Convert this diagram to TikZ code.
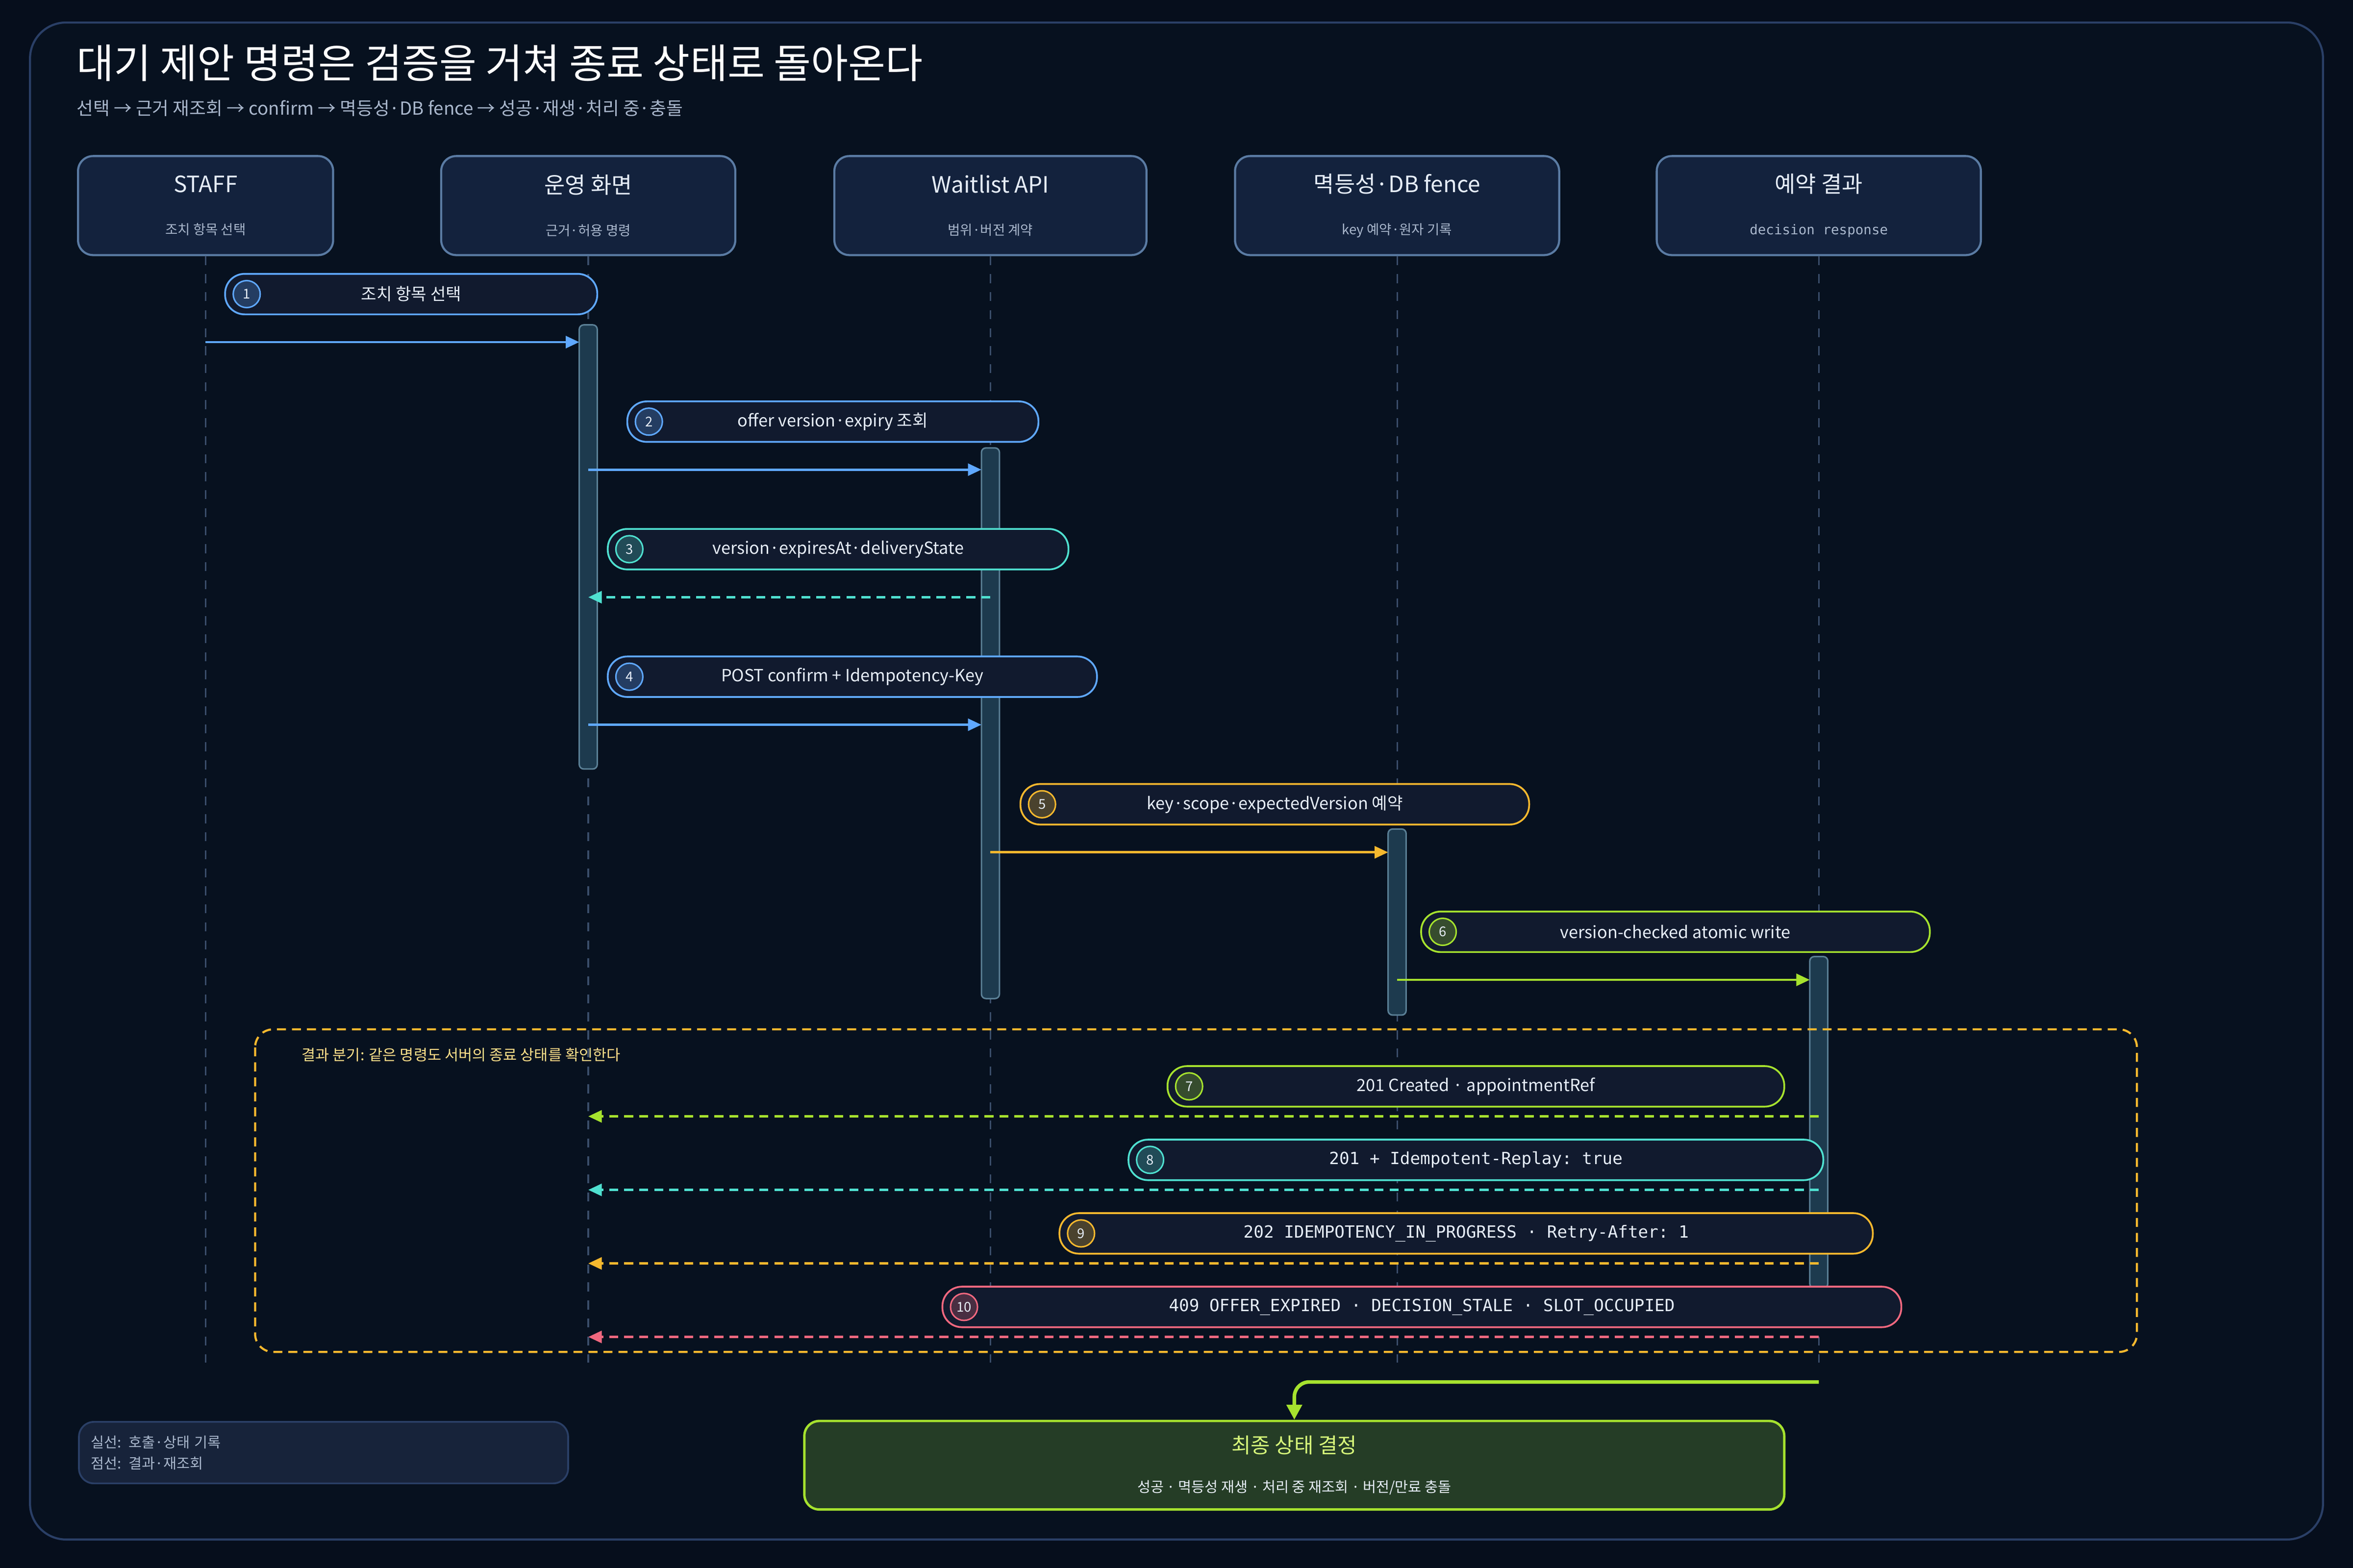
\documentclass[tikz,border=0pt]{standalone}
\usepackage{fontspec}
\setmainfont{Noto Sans CJK KR}
\setmonofont{DejaVu Sans Mono}
\usetikzlibrary{arrows.meta,positioning}
\definecolor{pagebg}{HTML}{060E1C}
\definecolor{framebg}{HTML}{07111F}
\definecolor{framedraw}{HTML}{2A3F66}
\definecolor{boxbg}{HTML}{13223D}
\definecolor{boxdraw}{HTML}{5A7BA3}
\definecolor{pillbg}{HTML}{111A2E}
\definecolor{txt}{HTML}{E6EDF7}
\definecolor{subtxt}{HTML}{A9B7CC}
\definecolor{life}{HTML}{3A4D6A}
\definecolor{actbg}{HTML}{1D3A4E}
\definecolor{actdraw}{HTML}{5A7F95}
\definecolor{cblue}{HTML}{5FA8FF}
\definecolor{cteal}{HTML}{4FE0D0}
\definecolor{corange}{HTML}{F5B82E}
\definecolor{cgreen}{HTML}{A6E22E}
\definecolor{cpink}{HTML}{F0687F}
\definecolor{cyellow}{HTML}{FFE08A}
\definecolor{finalbg}{HTML}{253D26}
\definecolor{finaltxt}{HTML}{D6F57A}
\definecolor{legendbg}{HTML}{17233A}

\tikzset{
  actor/.style={draw=boxdraw, fill=boxbg, rounded corners=5pt, line width=0.7pt,
    minimum height=33pt, align=center, text=txt},
  lifeline/.style={draw=life, line width=0.5pt, dash pattern=on 3pt off 3pt},
  act/.style={draw=actdraw, fill=actbg, rounded corners=1.5pt, line width=0.5pt,
    minimum width=6pt, inner sep=0pt},
  msg/.style={draw=#1, fill=pillbg, rounded corners=6.5pt, minimum height=13.5pt,
    line width=0.6pt, text=txt, inner sep=0pt, font=\fontsize{5.6}{6}\selectfont},
  num/.style={draw=#1, fill=#1!25!pillbg, circle, minimum size=9pt, inner sep=0pt,
    line width=0.5pt, text=txt, font=\fontsize{4.5}{5}\selectfont},
  call/.style={draw=#1, line width=0.8pt, -{Triangle[length=4.5pt,width=4pt]}},
  reply/.style={draw=#1, line width=0.8pt, dash pattern=on 3pt off 2pt,
    -{Triangle[length=4.5pt,width=4pt]}},
}

\begin{document}
\begin{tikzpicture}[x=0.5pt,y=-0.5pt]
  \fill[pagebg] (0,0) rectangle (1568,1045);
  \useasboundingbox (0,0) rectangle (1568,1045);
  \draw[framedraw, fill=framebg, line width=0.7pt, rounded corners=12pt] (20,15) rectangle (1548,1026);

  % title
  \node[anchor=west, text=white, font=\fontsize{13.5}{15}\selectfont] (title) at (44,42) {대기 제안 명령은 검증을 거쳐 종료 상태로 돌아온다};
  \node[anchor=west, text=subtxt, font=\fontsize{6}{7}\selectfont] (subtitle) at (44,72) {선택 → 근거 재조회 → confirm → 멱등성·DB fence → 성공·재생·처리 중·충돌};

  % participants
  \node[actor, minimum width=85pt]  (staff)  at (137,137) {\fontsize{7.5}{9}\selectfont STAFF\\[2pt]{\fontsize{4.5}{5}\selectfont\color{subtxt}조치 항목 선택}};
  \node[actor, minimum width=98pt]  (ui)     at (392,137) {\fontsize{7.5}{9}\selectfont 운영 화면\\[2pt]{\fontsize{4.5}{5}\selectfont\color{subtxt}근거·허용 명령}};
  \node[actor, minimum width=104pt] (api)    at (660,137) {\fontsize{7.5}{9}\selectfont Waitlist API\\[2pt]{\fontsize{4.5}{5}\selectfont\color{subtxt}범위·버전 계약}};
  \node[actor, minimum width=108pt] (fence)  at (931,137) {\fontsize{7.5}{9}\selectfont 멱등성·DB fence\\[2pt]{\fontsize{4.5}{5}\selectfont\color{subtxt}key 예약·원자 기록}};
  \node[actor, minimum width=108pt] (result) at (1212,137) {\fontsize{7.5}{9}\selectfont 예약 결과\\[2pt]{\fontsize{4.5}{5}\ttfamily\color{subtxt}decision response}};

  % lifelines
  \foreach \p/\x in {staff/137,ui/392,api/660,fence/931,result/1212}
    \draw[lifeline] (\p.south) -- (\x,908);

  % activations
  \node[act, minimum height=148pt, anchor=north] (uiact)     at (392,216) {};
  \node[act, minimum height=183.5pt, anchor=north] (apiact)  at (660,298) {};
  \node[act, minimum height=62pt, anchor=north] (fenceact)   at (931,552) {};
  \node[act, minimum height=110.5pt, anchor=north] (resact)  at (1212,637) {};

  % alt frame
  \draw[corange, line width=0.7pt, dash pattern=on 3pt off 2pt, rounded corners=6pt] (170,686) rectangle (1424,901);
  \node[anchor=west, text=cyellow, font=\fontsize{5}{6}\selectfont] (altlabel) at (194,703) {결과 분기: 같은 명령도 서버의 종료 상태를 확인한다};

  % message labels
  \node[msg=cblue, minimum width=124pt]   (m1)  at (274,196) {조치 항목 선택};
  \node[msg=cblue, minimum width=137pt]   (m2)  at (555,281) {offer version·expiry 조회};
  \node[msg=cteal, minimum width=153.5pt] (m3)  at (558.5,366) {version·expiresAt·deliveryState};
  \node[msg=cblue, minimum width=163pt]   (m4)  at (568,451) {POST confirm + Idempotency-Key};
  \node[msg=corange, minimum width=169.5pt] (m5) at (849.5,536) {key·scope·expectedVersion 예약};
  \node[msg=cgreen, minimum width=169.5pt] (m6) at (1116.5,621) {version-checked atomic write};
  \node[msg=cgreen, minimum width=205.5pt] (m7) at (983.5,724) {201 Created · appointmentRef};
  \node[msg=cteal, minimum width=231.5pt, font=\fontsize{5.6}{6}\ttfamily] (m8) at (983.5,773) {201 + Idempotent-Replay: true};
  \node[msg=corange, minimum width=271pt, font=\fontsize{5.6}{6}\ttfamily] (m9) at (977,822) {202 IDEMPOTENCY\_IN\_PROGRESS · Retry-After: 1};
  \node[msg=cpink, minimum width=319.5pt, font=\fontsize{5.6}{6}\ttfamily] (m10) at (947.5,871) {409 OFFER\_EXPIRED · DECISION\_STALE · SLOT\_OCCUPIED};

  \node[num=cblue]   at ([xshift=7.5pt]m1.west)  {1};
  \node[num=cblue]   at ([xshift=7.5pt]m2.west)  {2};
  \node[num=cteal]   at ([xshift=7.5pt]m3.west)  {3};
  \node[num=cblue]   at ([xshift=7.5pt]m4.west)  {4};
  \node[num=corange] at ([xshift=7.5pt]m5.west)  {5};
  \node[num=cgreen]  at ([xshift=7.5pt]m6.west)  {6};
  \node[num=cgreen]  at ([xshift=7.5pt]m7.west)  {7};
  \node[num=cteal]   at ([xshift=7.5pt]m8.west)  {8};
  \node[num=corange] at ([xshift=7.5pt]m9.west)  {9};
  \node[num=cpink]   at ([xshift=7.5pt]m10.west) {10};

  % arrow ends
  \coordinate (a1s) at (137,228);  \coordinate (a1e) at (386,228);
  \coordinate (a2s) at (392,313);  \coordinate (a2e) at (654,313);
  \coordinate (a3s) at (660,398);  \coordinate (a3e) at (392,398);
  \coordinate (a4s) at (392,483);  \coordinate (a4e) at (654,483);
  \coordinate (a5s) at (660,568);  \coordinate (a5e) at (925,568);
  \coordinate (a6s) at (931,653);  \coordinate (a6e) at (1206,653);
  \coordinate (a7s) at (1212,744); \coordinate (a7e) at (392,744);
  \coordinate (a8s) at (1212,793); \coordinate (a8e) at (392,793);
  \coordinate (a9s) at (1212,842); \coordinate (a9e) at (392,842);
  \coordinate (a10s) at (1212,891); \coordinate (a10e) at (392,891);

  \draw[call=cblue]   (a1s) -- (a1e);
  \draw[call=cblue]   (a2s) -- (a2e);
  \draw[reply=cteal]  (a3s) -- (a3e);
  \draw[call=cblue]   (a4s) -- (a4e);
  \draw[call=corange] (a5s) -- (a5e);
  \draw[call=cgreen]  (a6s) -- (a6e);
  \draw[reply=cgreen] (a7s) -- (a7e);
  \draw[reply=cteal]  (a8s) -- (a8e);
  \draw[reply=corange] (a9s) -- (a9e);
  \draw[reply=cpink]  (a10s) -- (a10e);

  % final decision
  \node[draw=cgreen, fill=finalbg, rounded corners=5pt, line width=0.8pt,
    minimum width=326.5pt, minimum height=29.5pt, align=center] (final) at (862.5,976.5)
    {{\fontsize{7}{8}\selectfont\color{finaltxt}최종 상태 결정}\\[1pt]{\fontsize{4.8}{6}\selectfont\color{txt}성공 · 멱등성 재생 · 처리 중 재조회 · 버전/만료 충돌}};
  \coordinate (fstart) at (1212,921);
  \draw[cgreen, line width=1.2pt, rounded corners=5pt, -{Triangle[length=5pt,width=5pt]}]
    (fstart) -- (final.north |- fstart) -- (final.north);

  % legend
  \node[draw=framedraw, fill=legendbg, rounded corners=5pt, line width=0.6pt,
    minimum width=163pt, minimum height=20.5pt, align=left, anchor=north west,
    text=subtxt, font=\fontsize{4.8}{7}\selectfont, text width=155pt] (legend) at (52,947)
    {실선: 호출·상태 기록\\점선: 결과·재조회};
\end{tikzpicture}
\end{document}
